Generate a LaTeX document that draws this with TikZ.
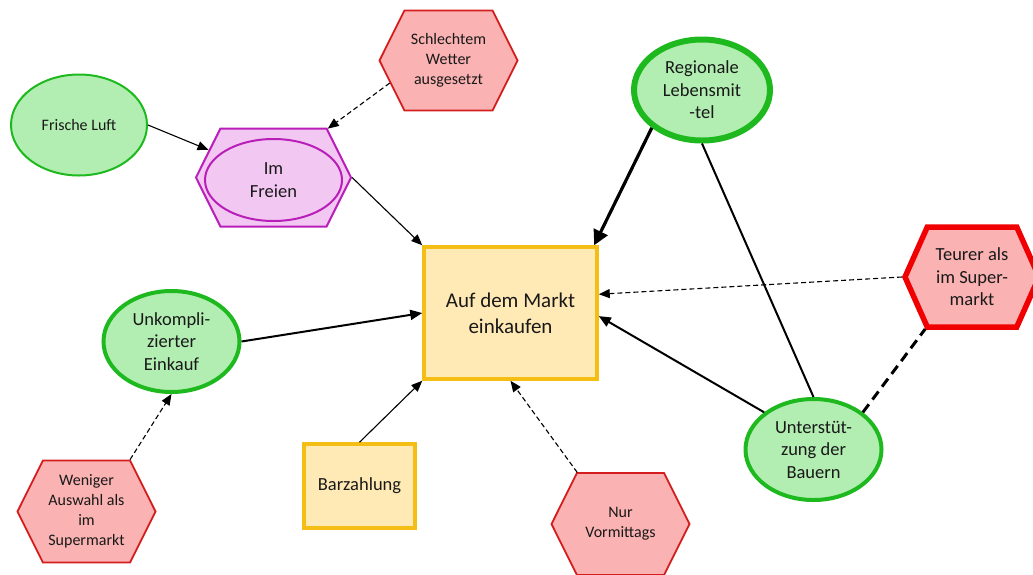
\documentclass[tikz,border=0pt]{standalone}
\usepackage{fontspec}
\setmainfont{Carlito}
\usetikzlibrary{shapes.geometric,shapes.symbols,arrows.meta}

\definecolor{procol}{RGB}{178,238,178}
\definecolor{prodraw}{RGB}{30,185,30}
\definecolor{concol}{RGB}{250,178,178}
\definecolor{condraw}{RGB}{212,30,30}
\definecolor{conred}{RGB}{240,0,0}
\definecolor{zielcol}{RGB}{255,233,180}
\definecolor{zieldraw}{RGB}{245,190,20}
\definecolor{ortcol}{RGB}{242,200,242}
\definecolor{ortdraw}{RGB}{185,30,185}

\newcommand\smallfnt{\fontsize{16}{20}\selectfont}
\newcommand\midfnt{\fontsize{18.5}{22.5}\selectfont}
\newcommand\bigfnt{\fontsize{21}{26}\selectfont}

\tikzset{
  pro/.style={ellipse, draw=prodraw, fill=procol, line width=#1, text=black!90,
    minimum width=136pt, minimum height=101pt, inner sep=0pt, align=center, font=\midfnt},
  contra/.style={signal, signal to=west and east, signal pointer angle=127,
    draw=condraw, fill=concol, line width=#1, text=black!90,
    minimum width=138pt, minimum height=100pt, inner sep=2pt, align=center, font=\smallfnt},
  ziel/.style={rectangle, draw=zieldraw, fill=zielcol, line width=3.5pt, text=black!90,
    align=center, font=\midfnt},
  pfeil/.style={-{Triangle[length=11pt,width=9pt]}, line width=1.1pt},
  pfeildash/.style={pfeil, dash pattern=on 5pt off 3pt},
  pfeilmid/.style={-{Triangle[length=12pt,width=10pt]}, line width=2pt},
  pfeilstark/.style={-{Triangle[length=15pt,width=15pt]}, line width=3.2pt}
}

\begin{document}
\begin{tikzpicture}[x=1pt,y=-1pt]
  \useasboundingbox (0,0) rectangle (1033,574);

  \node[pro=2pt, font=\smallfnt] (luft) at (79,125) {Frische Luft};
  \node[contra=1.8pt] (wetter) at (448.5,60.5) {Schlechtem\\Wetter\\ausgesetzt};
  \node[signal, signal to=west and east, signal pointer angle=127, draw=ortdraw, fill=ortcol,
    line width=2pt, minimum width=155pt, minimum height=98pt] (freien) at (273.5,177.5) {};
  \node[ellipse, draw=ortdraw, line width=2pt, minimum width=137pt, minimum height=82pt,
    inner sep=0pt, align=center, text=black!90, font=\midfnt] (freientext) at (273.5,180) {Im\\Freien};
  \node[pro=6pt] (regional) at (702,90) {Regionale\\Lebensmit\\-tel};

  \node[ziel, minimum width=173pt, minimum height=132pt, font=\bigfnt] (markt) at (510.5,313) {Auf dem Markt\\einkaufen};
  \node[ziel, minimum width=111pt, minimum height=84pt] (bar) at (359.5,486) {Barzahlung};

  \node[pro=4pt] (einfach) at (171.5,341.5) {Unkompli-\\zierter\\Einkauf};
  \node[pro=4pt] (bauern) at (813.5,449.5) {Unterstüt-\\zung der\\Bauern};

  \node[contra=5.5pt, draw=conred, minimum width=134pt, minimum height=100pt, signal pointer angle=132,
    font=\midfnt] (teurer) at (972,277) {Teurer als\\im Super-\\markt};
  \node[contra=1.8pt, minimum height=102pt] (auswahl) at (86.5,511.5) {Weniger\\Auswahl als\\im\\Supermarkt};
  \node[contra=1.8pt, minimum height=102pt] (vormittag) at (620.5,524) {Nur\\Vormittags};

  \draw[pfeil] (luft.east) -- (freien.157);
  \draw[pfeildash] (wetter.201) -- (freien.42);
  \draw[pfeil] (freien.east) -- (markt.north west);
  \draw[pfeilstark] (regional.217) -- (markt.39);
  \draw[line width=2pt] (regional.south) -- (bauern.north);
  \draw[pfeildash] (teurer.west) -- (markt.12);
  \draw[pfeilmid] (bauern.143) -- (markt.-2);
  \draw[line width=3pt, dash pattern=on 10pt off 6pt] (bauern.37) -- (teurer.228);
  \draw[pfeilmid] (einfach.east) -- (markt.west);
  \draw[pfeildash] (auswahl.50) -- (einfach.south);
  \draw[pfeil] (bar.north) -- (markt.south west);
  \draw[pfeildash] (vormittag.130) -- (markt.south);
\end{tikzpicture}
\end{document}
